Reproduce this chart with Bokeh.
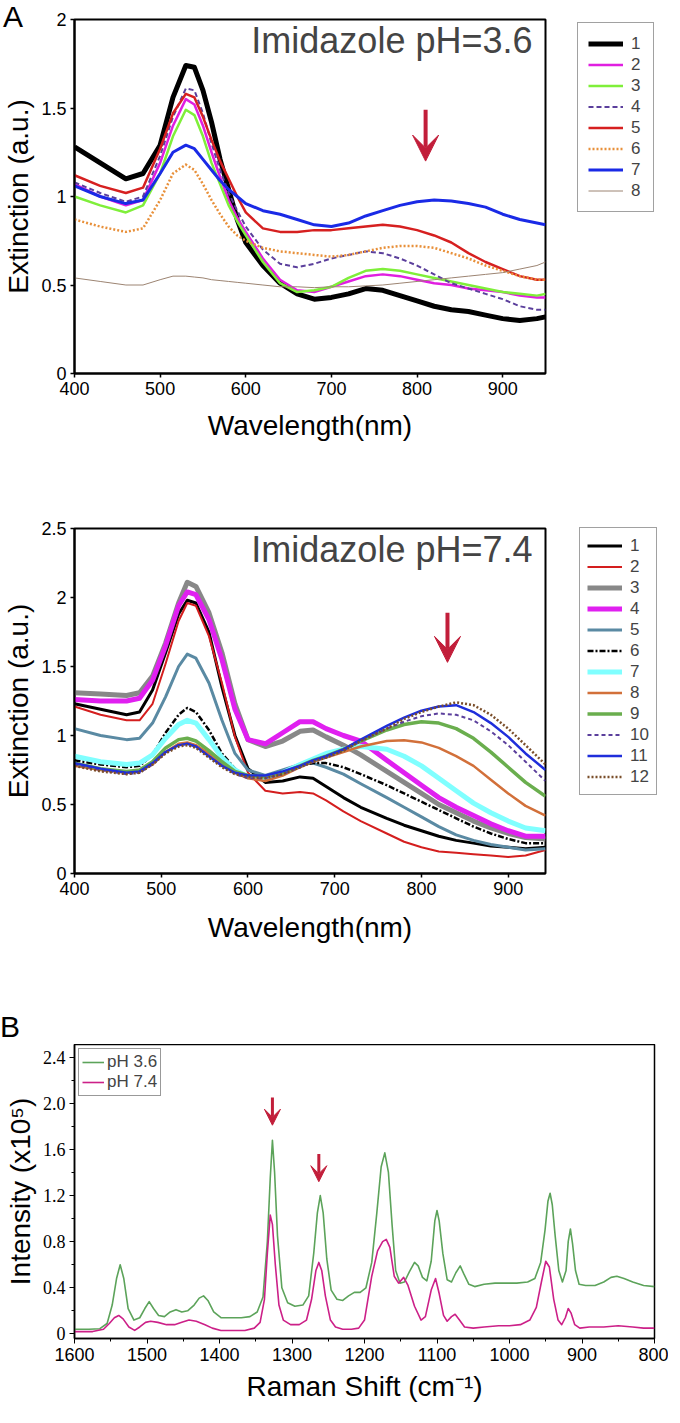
from bokeh.plotting import figure
from bokeh.layouts import column
from bokeh.models import (Range1d, FixedTicker, NumeralTickFormatter, Legend, LegendItem,
                          Label, Arrow, VeeHead, Div)
from bokeh.embed import file_html
from bokeh.resources import INLINE

# ---------------- Panel A (pH 3.6) ----------------
WL_A = [400, 430, 460, 480, 500, 515, 530, 540, 550, 560, 570, 580, 590, 600, 620, 640,
        660, 680, 700, 720, 740, 760, 780, 800, 820, 840, 860, 880, 900, 920, 940, 950]
A1 = [1.28, 1.19, 1.10, 1.13, 1.29, 1.56, 1.74, 1.73, 1.60, 1.42, 1.21, 1.04, 0.87, 0.74, 0.61, 0.51,
      0.45, 0.42, 0.43, 0.45, 0.48, 0.47, 0.44, 0.41, 0.38, 0.36, 0.35, 0.33, 0.31, 0.30, 0.31, 0.32]
A2 = [1.07, 1.00, 0.95, 0.98, 1.19, 1.40, 1.55, 1.52, 1.40, 1.25, 1.11, 0.98, 0.88, 0.80, 0.65, 0.53,
      0.47, 0.46, 0.49, 0.52, 0.55, 0.56, 0.55, 0.53, 0.51, 0.50, 0.48, 0.47, 0.46, 0.44, 0.43, 0.43]
A3 = [1.00, 0.95, 0.91, 0.95, 1.13, 1.34, 1.49, 1.46, 1.34, 1.19, 1.07, 0.95, 0.86, 0.78, 0.63, 0.51,
      0.46, 0.47, 0.49, 0.54, 0.58, 0.59, 0.58, 0.56, 0.54, 0.52, 0.50, 0.48, 0.46, 0.45, 0.44, 0.45]
A4 = [1.08, 1.02, 0.97, 1.00, 1.23, 1.45, 1.61, 1.60, 1.47, 1.30, 1.15, 1.02, 0.92, 0.83, 0.70, 0.62,
      0.60, 0.62, 0.65, 0.67, 0.69, 0.68, 0.65, 0.61, 0.56, 0.51, 0.48, 0.45, 0.42, 0.38, 0.36, 0.36]
A5 = [1.12, 1.06, 1.02, 1.05, 1.27, 1.47, 1.58, 1.56, 1.45, 1.32, 1.20, 1.10, 1.00, 0.91, 0.82, 0.80,
      0.80, 0.81, 0.81, 0.82, 0.83, 0.84, 0.83, 0.81, 0.78, 0.74, 0.68, 0.63, 0.59, 0.55, 0.53, 0.53]
A6 = [0.87, 0.83, 0.80, 0.82, 0.98, 1.13, 1.18, 1.15, 1.07, 0.98, 0.90, 0.83, 0.78, 0.75, 0.71, 0.69,
      0.68, 0.67, 0.66, 0.67, 0.69, 0.71, 0.72, 0.72, 0.71, 0.68, 0.65, 0.61, 0.58, 0.55, 0.53, 0.53]
A7 = [1.06, 1.00, 0.96, 0.98, 1.13, 1.25, 1.29, 1.27, 1.21, 1.15, 1.09, 1.04, 1.00, 0.96, 0.92, 0.90,
      0.87, 0.84, 0.83, 0.85, 0.89, 0.92, 0.95, 0.97, 0.98, 0.975, 0.96, 0.94, 0.90, 0.87, 0.85, 0.84]
A8 = [0.54, 0.52, 0.50, 0.50, 0.53, 0.55, 0.55, 0.545, 0.54, 0.53, 0.525, 0.52, 0.515, 0.51, 0.50, 0.49,
      0.49, 0.485, 0.49, 0.49, 0.495, 0.50, 0.51, 0.52, 0.53, 0.54, 0.55, 0.56, 0.57, 0.59, 0.61, 0.63]
LABELS_A = ["1", "2", "3", "4", "5", "6", "7", "8"]
COLORS_A = ["#000000", "#E01FE0", "#7FEF3A", "#5B3F9C", "#D62020", "#E8903A", "#1A2AE6", "#9C8472"]
WIDTHS_A = [5, 2.5, 2.5, 2, 2.5, 2.5, 3, 1]
DASHES_A = ["solid", "solid", "solid", "5 3", "solid", "2 2", "solid", "solid"]

# ---------------- Panel A lower (pH 7.4) ----------------
WL_B = [400, 430, 460, 475, 490, 505, 520, 530, 540, 555, 570, 585, 600, 620, 640, 660, 675, 690,
        710, 730, 760, 780, 800, 820, 840, 860, 880, 900, 920, 943]
B1 = [1.23, 1.19, 1.15, 1.17, 1.33, 1.60, 1.88, 1.98, 1.96, 1.75, 1.35, 1.00, 0.76, 0.66, 0.67, 0.70, 0.69, 0.63,
      0.55, 0.48, 0.40, 0.35, 0.31, 0.27, 0.24, 0.22, 0.20, 0.19, 0.18, 0.19]
B2 = [1.21, 1.15, 1.11, 1.11, 1.23, 1.52, 1.83, 1.96, 1.94, 1.72, 1.38, 0.99, 0.73, 0.60, 0.58, 0.59, 0.58, 0.53,
      0.45, 0.38, 0.29, 0.23, 0.19, 0.16, 0.15, 0.14, 0.13, 0.12, 0.13, 0.17]
B3 = [1.31, 1.30, 1.29, 1.31, 1.43, 1.67, 1.96, 2.11, 2.08, 1.89, 1.60, 1.23, 0.97, 0.92, 0.96, 1.03, 1.04, 0.99,
      0.93, 0.86, 0.74, 0.66, 0.58, 0.50, 0.44, 0.38, 0.33, 0.29, 0.26, 0.25]
B4 = [1.26, 1.25, 1.25, 1.27, 1.40, 1.65, 1.94, 2.04, 2.02, 1.84, 1.55, 1.19, 0.97, 0.94, 1.02, 1.10, 1.10, 1.05,
      1.00, 0.96, 0.82, 0.73, 0.64, 0.55, 0.48, 0.42, 0.36, 0.31, 0.27, 0.27]
B5 = [1.05, 1.00, 0.97, 0.98, 1.09, 1.28, 1.50, 1.59, 1.56, 1.38, 1.11, 0.87, 0.75, 0.71, 0.75, 0.79, 0.80, 0.77,
      0.72, 0.65, 0.55, 0.48, 0.41, 0.34, 0.28, 0.24, 0.21, 0.19, 0.17, 0.18]
B6 = [0.82, 0.79, 0.77, 0.78, 0.86, 1.02, 1.15, 1.20, 1.17, 1.04, 0.87, 0.76, 0.70, 0.68, 0.72, 0.78, 0.80, 0.80,
      0.77, 0.72, 0.64, 0.58, 0.52, 0.46, 0.40, 0.34, 0.29, 0.25, 0.22, 0.22]
B7 = [0.85, 0.81, 0.79, 0.80, 0.86, 0.98, 1.08, 1.11, 1.09, 0.97, 0.84, 0.75, 0.70, 0.69, 0.73, 0.79, 0.83, 0.87,
      0.90, 0.92, 0.90, 0.85, 0.78, 0.69, 0.60, 0.51, 0.44, 0.38, 0.33, 0.31]
B8 = [0.78, 0.75, 0.73, 0.74, 0.79, 0.88, 0.94, 0.95, 0.93, 0.87, 0.79, 0.73, 0.69, 0.67, 0.71, 0.77, 0.81, 0.84,
      0.88, 0.92, 0.96, 0.965, 0.95, 0.91, 0.85, 0.78, 0.68, 0.58, 0.49, 0.42]
B9 = [0.80, 0.76, 0.74, 0.75, 0.81, 0.91, 0.97, 0.98, 0.96, 0.89, 0.81, 0.74, 0.71, 0.70, 0.73, 0.78, 0.82, 0.85,
      0.90, 0.96, 1.04, 1.08, 1.10, 1.09, 1.05, 0.98, 0.88, 0.77, 0.66, 0.56]
B10 = [0.79, 0.75, 0.72, 0.73, 0.79, 0.88, 0.93, 0.94, 0.92, 0.85, 0.78, 0.72, 0.69, 0.69, 0.72, 0.77, 0.81, 0.84,
       0.89, 0.96, 1.05, 1.10, 1.14, 1.16, 1.15, 1.11, 1.03, 0.93, 0.81, 0.67]
B11 = [0.80, 0.76, 0.73, 0.74, 0.80, 0.88, 0.93, 0.94, 0.92, 0.85, 0.78, 0.73, 0.71, 0.71, 0.74, 0.78, 0.82, 0.85,
       0.90, 0.97, 1.07, 1.13, 1.18, 1.21, 1.22, 1.17, 1.09, 0.99, 0.87, 0.75]
B12 = [0.78, 0.74, 0.72, 0.73, 0.79, 0.87, 0.92, 0.93, 0.91, 0.84, 0.77, 0.72, 0.70, 0.69, 0.72, 0.77, 0.81, 0.84,
       0.89, 0.96, 1.05, 1.12, 1.17, 1.21, 1.24, 1.22, 1.15, 1.05, 0.93, 0.79]
LABELS_B = ["1", "2", "3", "4", "5", "6", "7", "8", "9", "10", "11", "12"]
COLORS_B = ["#000000", "#D41E1E", "#888888", "#E020F0", "#5A8AA3", "#000000", "#80FFFF", "#D2703A",
            "#6AAE4E", "#5B3F9C", "#1F2EDB", "#7A4E2A"]
WIDTHS_B = [3, 2, 5, 5, 3, 2.5, 5, 2.5, 3.5, 2, 2.5, 2.5]
DASHES_B = ["solid", "solid", "solid", "solid", "solid", "6 2 2 2", "solid", "solid", "solid", "4 3",
            "solid", "2 2"]

# ---------------- Panel B (Raman) ----------------
RAMAN_36_X = [1600, 1580, 1565, 1555, 1548, 1542, 1537, 1532, 1526, 1518, 1510, 1503, 1497, 1491, 1484,
              1476, 1468, 1460, 1452, 1444, 1435, 1428, 1422, 1416, 1408, 1398, 1385, 1370, 1358, 1348,
              1340, 1334, 1330, 1327, 1324, 1320, 1314, 1306, 1296, 1285, 1277, 1270, 1265, 1261, 1257,
              1252, 1246, 1238, 1230, 1222, 1214, 1206, 1198, 1190, 1183, 1177, 1172, 1167, 1162, 1157,
              1151, 1145, 1138, 1131, 1126, 1120, 1114, 1108, 1103, 1100, 1097, 1092, 1086, 1080, 1074,
              1068, 1063, 1056, 1048, 1035, 1020, 1005, 990, 975, 965, 957, 951, 947, 944, 941, 937,
              932, 927, 922, 919, 916, 913, 909, 904, 895, 882, 870, 860, 852, 842, 830, 815, 800]
RAMAN_36_Y = [0.04, 0.04, 0.045, 0.09, 0.25, 0.48, 0.60, 0.48, 0.22, 0.12, 0.14, 0.22, 0.28, 0.22, 0.16,
              0.15, 0.19, 0.21, 0.19, 0.20, 0.25, 0.31, 0.33, 0.29, 0.19, 0.14, 0.14, 0.14, 0.15, 0.19,
              0.32, 0.80, 1.35, 1.68, 1.40, 0.85, 0.40, 0.27, 0.24, 0.25, 0.33, 0.70, 1.05, 1.20, 1.05,
              0.65, 0.38, 0.30, 0.29, 0.33, 0.36, 0.36, 0.40, 0.62, 1.05, 1.45, 1.57, 1.40, 0.95, 0.55,
              0.44, 0.45, 0.54, 0.62, 0.59, 0.49, 0.46, 0.63, 0.98, 1.07, 0.98, 0.70, 0.47, 0.45, 0.53,
              0.59, 0.52, 0.43, 0.41, 0.43, 0.44, 0.44, 0.44, 0.45, 0.48, 0.62, 0.90, 1.15, 1.22, 1.12, 0.85,
              0.55, 0.45, 0.55, 0.80, 0.91, 0.78, 0.55, 0.43, 0.42, 0.42, 0.45, 0.49, 0.50, 0.48, 0.45, 0.42, 0.41]
RAMAN_74_X = [1600, 1575, 1560, 1552, 1545, 1539, 1533, 1525, 1517, 1510, 1502, 1495, 1485, 1473, 1462,
              1452, 1442, 1432, 1420, 1410, 1398, 1380, 1365, 1352, 1344, 1338, 1334, 1330, 1327, 1323,
              1318, 1312, 1302, 1290, 1280, 1273, 1267, 1263, 1259, 1254, 1247, 1240, 1230, 1218, 1208,
              1200, 1190, 1182, 1175, 1170, 1165, 1159, 1153, 1146, 1140, 1131, 1122, 1116, 1108, 1102,
              1097, 1091, 1086, 1080, 1075, 1069, 1062, 1050, 1035, 1015, 1000, 985, 972, 963, 956, 950,
              945, 939, 933, 928, 923, 919, 915, 910, 903, 890, 870, 850, 830, 815, 800]
RAMAN_74_Y = [0.02, 0.02, 0.04, 0.09, 0.14, 0.16, 0.13, 0.06, 0.03, 0.06, 0.10, 0.11, 0.10, 0.08, 0.08,
              0.10, 0.12, 0.11, 0.08, 0.05, 0.03, 0.03, 0.03, 0.05, 0.10, 0.30, 0.70, 1.03, 0.95, 0.60,
              0.25, 0.12, 0.08, 0.08, 0.12, 0.30, 0.55, 0.62, 0.55, 0.33, 0.12, 0.06, 0.04, 0.04, 0.05,
              0.12, 0.50, 0.72, 0.80, 0.82, 0.75, 0.50, 0.44, 0.49, 0.42, 0.24, 0.12, 0.15, 0.38, 0.48,
              0.35, 0.16, 0.11, 0.15, 0.17, 0.12, 0.06, 0.05, 0.06, 0.07, 0.07, 0.08, 0.12, 0.23, 0.45, 0.63,
              0.58, 0.30, 0.12, 0.08, 0.14, 0.22, 0.18, 0.08, 0.05, 0.06, 0.06, 0.07, 0.06, 0.05, 0.05]
RAMAN_LABELS = ["pH 3.6", "pH 7.4"]
RAMAN_COLORS = ["#5CA35A", "#CC2088"]

X_TICKS_UV = [400, 500, 600, 700, 800, 900]
Y_TICKS_A = [0, 0.5, 1, 1.5, 2]
Y_TICKS_B = [0, 0.5, 1, 1.5, 2, 2.5]
X_TICKS_R = [1600, 1500, 1400, 1300, 1200, 1100, 1000, 900, 800]
X_MINOR_R = [1550, 1450, 1350, 1250, 1150, 1050, 950, 850]
Y_TICKS_R = [0, 0.4, 0.8, 1.2, 1.6, 2.0, 2.4]
Y_MINOR_R = [0.2, 0.6, 1.0, 1.4, 1.8, 2.2]

SANS = "Liberation Sans"
SERIF = "Liberation Serif"
ARROW_RED = "#C21E3A"


def base_fig(fw, fh, left, right, top, bottom, xr, yr, lw=2):
    p = figure(frame_width=fw, frame_height=fh, min_border_left=left, min_border_right=right,
               min_border_top=top, min_border_bottom=bottom, x_range=xr, y_range=yr,
               output_backend="svg", toolbar_location=None)
    p.xgrid.visible = False
    p.ygrid.visible = False
    p.outline_line_color = "black"
    p.outline_line_width = lw
    p.outline_line_alpha = 1
    p.background_fill_color = "white"
    p.border_fill_color = "white"
    for ax in (p.xaxis[0], p.yaxis[0]):
        ax.axis_line_width = lw
        ax.major_tick_out = 4
        ax.major_tick_in = 0
        ax.minor_tick_out = 0
        ax.minor_tick_in = 0
        ax.major_tick_line_width = 1.5
        ax.major_label_text_font = SANS
        ax.major_label_text_font_size = "18px"
        ax.major_label_text_color = "black"
        ax.major_label_standoff = 4
        ax.axis_label_text_font = SANS
        ax.axis_label_text_font_size = "28px"
        ax.axis_label_text_font_style = "normal"
        ax.axis_label_text_color = "black"
        ax.axis_label_standoff = 4
    return p


def add_lines(p, xs, series, colors, widths, dashes):
    rs = []
    for ys, c, w, d in zip(series, colors, widths, dashes):
        rs.append(p.line(xs, ys, line_color=c, line_width=w, line_dash=d, line_join="round"))
    return rs


def side_legend(p, labels, rs, loc, pad, lab_w):
    items = [LegendItem(label=l, renderers=[r]) for l, r in zip(labels, rs)]
    leg = Legend(items=items, location=loc, label_text_font=SANS, label_text_font_size="17px",
                 glyph_width=35, glyph_height=21, label_height=21, label_width=lab_w, spacing=0,
                 padding=pad, margin=0, label_standoff=8, border_line_color="#444444",
                 border_line_width=1, background_fill_color="white", background_fill_alpha=1)
    p.add_layout(leg, "right")


# ----- panel letter A (floats over the top-left corner, takes no layout space) -----
divA = Div(text='<div style="font-family:\'Liberation Sans\',Arial,sans-serif;font-size:30px;'
                'line-height:34px;height:34px;color:#000;margin:0;padding:0;">A</div>',
           width=30, height=34, margin=(0, 0, 0, 0),
           styles={"position": "absolute", "top": "0px", "left": "3px", "z-index": "10"})

# ----- figure A (pH 3.6) -----
FA_W, FA_H = 471, 354
pA = base_fig(FA_W, FA_H, 69, 124, 19, 107, Range1d(400, 950), Range1d(0, 2))
pA.xaxis.ticker = FixedTicker(ticks=X_TICKS_UV)
pA.yaxis.ticker = FixedTicker(ticks=Y_TICKS_A)
pA.yaxis.formatter = NumeralTickFormatter(format="0.[0]")
pA.xaxis.axis_label = "Wavelength(nm)"
pA.yaxis.axis_label = "Extinction (a.u.)"
pA.xaxis.axis_label_standoff = 12
rA = add_lines(pA, WL_A, [A1, A2, A3, A4, A5, A6, A7, A8], COLORS_A, WIDTHS_A, DASHES_A)
side_legend(pA, LABELS_A, rA, (32, 161), 10, 12)
pA.add_layout(Label(x=FA_W - 3, y=FA_H, x_units="screen", y_units="screen", text="Imidazole  pH=3.6",
                    text_align="right", text_baseline="top", text_font=SANS, text_font_size="36px"))
pA.add_layout(Arrow(end=VeeHead(size=26, fill_color=ARROW_RED, line_color=ARROW_RED),
                    x_start=810, y_start=1.49, x_end=810, y_end=1.20,
                    line_color=ARROW_RED, line_width=4))

# ----- figure A (pH 7.4) -----
FB_W, FB_H = 471, 345
pB = base_fig(FB_W, FB_H, 69, 124, 48, 87, Range1d(400, 943), Range1d(0, 2.5))
pB.xaxis.ticker = FixedTicker(ticks=X_TICKS_UV)
pB.yaxis.ticker = FixedTicker(ticks=Y_TICKS_B)
pB.yaxis.formatter = NumeralTickFormatter(format="0.[0]")
pB.xaxis.axis_label = "Wavelength(nm)"
pB.yaxis.axis_label = "Extinction (a.u.)"
pB.xaxis.axis_label_standoff = 14
rB = add_lines(pB, WL_B, [B1, B2, B3, B4, B5, B6, B7, B8, B9, B10, B11, B12],
               COLORS_B, WIDTHS_B, DASHES_B)
side_legend(pB, LABELS_B, rB, (34, 78), 7, 12)
pB.add_layout(Label(x=FB_W - 3, y=FB_H, x_units="screen", y_units="screen", text="Imidazole  pH=7.4",
                    text_align="right", text_baseline="top", text_font=SANS, text_font_size="36px"))
pB.add_layout(Arrow(end=VeeHead(size=26, fill_color=ARROW_RED, line_color=ARROW_RED),
                    x_start=830, y_start=1.89, x_end=830, y_end=1.53,
                    line_color=ARROW_RED, line_width=4))

# ----- panel letter B -----
divB = Div(text='<div style="font-family:\'Liberation Sans\',Arial,sans-serif;font-size:30px;'
                'line-height:30px;color:#000;margin:0;padding:52px 0 0 0;">B</div>',
           width=60, height=84, margin=(0, 0, 0, 0))

# ----- figure B (Raman) -----
FR_W, FR_H = 580, 294
pR = base_fig(FR_W, FR_H, 69, 15, 0, 69, Range1d(1600, 800), Range1d(-0.04, 2.51), lw=1.5)
pR.xaxis.ticker = FixedTicker(ticks=X_TICKS_R, minor_ticks=X_MINOR_R)
pR.yaxis.ticker = FixedTicker(ticks=Y_TICKS_R, minor_ticks=Y_MINOR_R)
pR.yaxis.formatter = NumeralTickFormatter(format="0.0")
pR.yaxis.major_label_overrides = {0: "0"}
pR.yaxis.major_label_text_font = SERIF
for ax in (pR.xaxis[0], pR.yaxis[0]):
    ax.minor_tick_out = 3
    ax.major_tick_out = 5
    ax.major_tick_line_width = 1
    ax.minor_tick_line_width = 1
pR.xaxis.axis_label = "Raman Shift (cm\u207b\u00b9)"
pR.yaxis.axis_label = "Intensity (x10\u2075)"
pR.xaxis.axis_label_standoff = 7
rR1 = pR.line(RAMAN_36_X, RAMAN_36_Y, line_color=RAMAN_COLORS[0], line_width=1.6, line_join="round")
rR2 = pR.line(RAMAN_74_X, RAMAN_74_Y, line_color=RAMAN_COLORS[1], line_width=1.6, line_join="round")
legR = Legend(items=[LegendItem(label=RAMAN_LABELS[0], renderers=[rR1]),
                     LegendItem(label=RAMAN_LABELS[1], renderers=[rR2])],
              location="top_left", margin=4, padding=3, glyph_width=22, glyph_height=20,
              label_height=20, spacing=0, label_standoff=3, label_text_font=SANS,
              label_text_font_size="17px", border_line_color="#333333", border_line_width=1)
pR.add_layout(legR)
for xa, y0, y1 in [(1327, 2.05, 1.81), (1263, 1.56, 1.32)]:
    pR.add_layout(Arrow(end=VeeHead(size=16, fill_color=ARROW_RED, line_color=ARROW_RED),
                        x_start=xa, y_start=y0, x_end=xa, y_end=y1,
                        line_color=ARROW_RED, line_width=3))

layout = column(divA, pA, pB, divB, pR, spacing=0)
open("out.html", "w").write(file_html(layout, INLINE))
